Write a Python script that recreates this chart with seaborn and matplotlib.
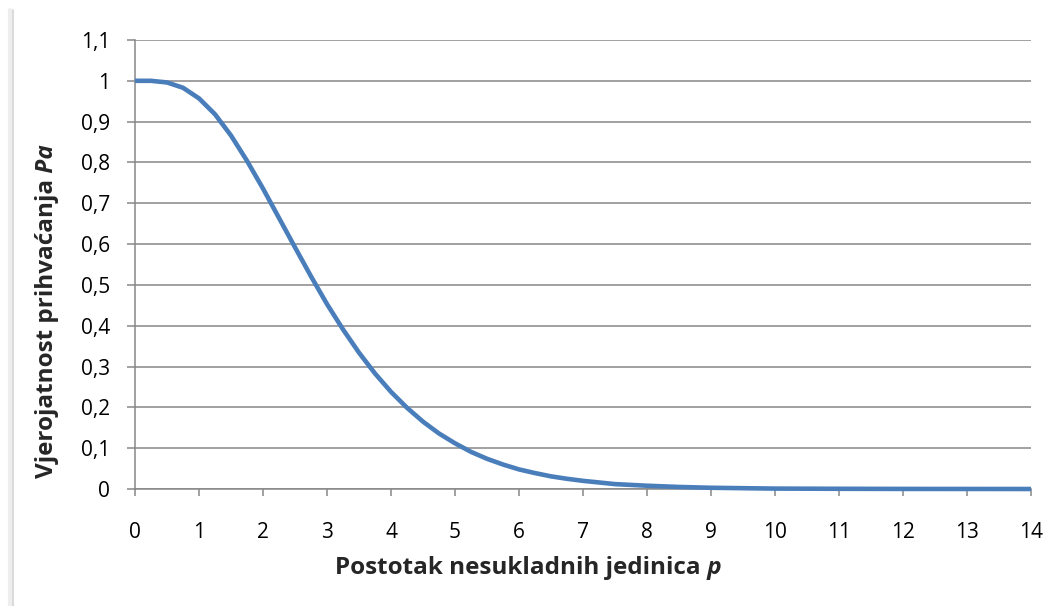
import matplotlib
matplotlib.use("Agg")
import matplotlib.pyplot as plt
from matplotlib.lines import Line2D
import seaborn as sns
import pandas as pd

# Data
postotak = [0, 0.25, 0.5, 0.75, 1, 1.25, 1.5, 1.75, 2, 2.25, 2.5, 2.75, 3, 3.25,
            3.5, 3.75, 4, 4.25, 4.5, 4.75, 5, 5.25, 5.5, 5.75, 6, 6.25, 6.5,
            6.75, 7, 7.25, 7.5, 7.75, 8, 8.5, 9, 9.5, 10, 11, 12, 13, 14]
vjerojatnost = [1.000, 1.000, 0.996, 0.983, 0.957, 0.918, 0.866, 0.804, 0.736,
                0.664, 0.592, 0.521, 0.453, 0.391, 0.334, 0.283, 0.238, 0.199,
                0.165, 0.136, 0.112, 0.091, 0.074, 0.060, 0.048, 0.039, 0.031,
                0.025, 0.020, 0.016, 0.012, 0.010, 0.008, 0.005, 0.003, 0.002,
                0.001, 0.0005, 0.0002, 0.0001, 0.0]
x_ticks = list(range(0, 15))
y_ticks = [i / 10 for i in range(0, 12)]
y_tick_labels = ['0', '0,1', '0,2', '0,3', '0,4', '0,5', '0,6', '0,7', '0,8', '0,9', '1', '1,1']

df = pd.DataFrame({'p': postotak, 'Pa': vjerojatnost})

sns.set_theme(style='white')
plt.rcParams['font.family'] = ['Open Sans', 'DejaVu Sans']

grid_col = '#878787'
line_col = '#4a7ebb'

fig = plt.figure(figsize=(10.6, 6.06), dpi=100)
ax = fig.add_axes([135 / 1060, 1 - 489 / 606, (1031 - 135) / 1060, (489 - 40) / 606])

sns.lineplot(data=df, x='p', y='Pa', ax=ax, color=line_col, linewidth=3.3, zorder=5)
for l in ax.lines:
    l.set_clip_on(False)
    l.set_solid_capstyle('butt')
    l.set_solid_joinstyle('round')

ax.set_xlim(0, 14)
ax.set_ylim(0, 1.1)
ax.set_xticks(x_ticks)
ax.set_xticklabels([str(t) for t in x_ticks])
ax.set_yticks(y_ticks)
ax.set_yticklabels(y_tick_labels)
ax.yaxis.grid(True, color=grid_col, linewidth=1.1)
ax.xaxis.grid(False)
ax.set_axisbelow(True)
for s in ['top', 'right']:
    ax.spines[s].set_visible(False)
for s in ['left', 'bottom']:
    ax.spines[s].set_color(grid_col)
    ax.spines[s].set_linewidth(1.1)
ax.tick_params(axis='x', length=5, width=1.1, color=grid_col, pad=19, labelsize=15, labelcolor='black', direction='out', bottom=True)
ax.tick_params(axis='y', length=6, width=1.1, color=grid_col, pad=12, labelsize=15, labelcolor='black', direction='out', left=True)
ax.set_xlabel('')
ax.set_ylabel('')

# axis titles (bold, with bold-italic symbol)
fs = 17.5
tx = fig.text(335 / 1060, 1 - 574 / 606, 'Postotak nesukladnih jedinica', fontsize=fs,
              fontweight='bold', ha='left', va='baseline')
ax.annotate(' p', xy=(1, 0), xycoords=tx, ha='left', va='bottom', fontsize=fs,
            fontweight='bold', fontstyle='italic', annotation_clip=False)

ty = fig.text(47 / 1060, 1 - 478 / 606, 'Vjerojatnost prihvaćanja', fontsize=fs,
              fontweight='bold', rotation=90, ha='center', va='bottom')
ax.annotate(' Pa', xy=(0.5, 1), xycoords=ty, ha='center', va='bottom', fontsize=fs,
            fontweight='bold', fontstyle='italic', rotation=90, annotation_clip=False)

# chart frame edge on the left
fig.add_artist(Line2D([10 / 1060, 10 / 1060], [0, 1 - 10 / 606], transform=fig.transFigure,
                      color='#eeeeee', linewidth=3))
fig.add_artist(Line2D([12.5 / 1060, 12.5 / 1060], [0, 1 - 10 / 606], transform=fig.transFigure,
                      color='#d4d4d4', linewidth=1.2))

fig.savefig('out.png', dpi=100)
